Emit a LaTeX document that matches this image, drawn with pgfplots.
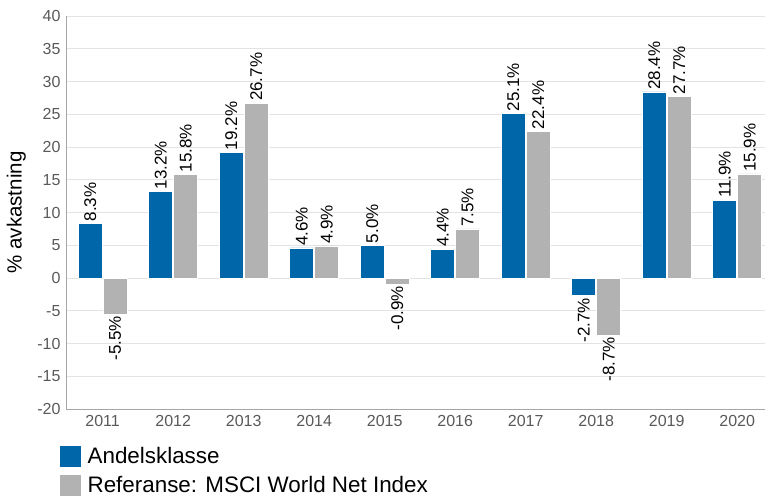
\documentclass[border=0pt]{standalone}
\usepackage{pgfplots}
\pgfplotsset{compat=1.18}
\usepackage{fontspec}
\setmainfont{Liberation Sans}
\definecolor{cblue}{HTML}{0066AA}
\definecolor{cgray}{HTML}{B2B2B2}
\definecolor{tickgray}{HTML}{595959}
\definecolor{gridgray}{HTML}{E3E3E3}
\definecolor{axgray}{HTML}{A6A6A6}
\begin{document}
\begin{tikzpicture}[x=1pt,y=1pt]
\path[use as bounding box] (0,0) rectangle (765,496);
\begin{axis}[
  at={(66pt,87pt)}, anchor=south west,
  scale only axis, width=699pt, height=393pt,
  xmin=-0.52, xmax=9.395, ymin=-20, ymax=40,
  ybar=1pt, bar width=24pt,
  axis x line*=bottom, axis y line*=left,
  axis line style={axgray, line width=1pt, -},
  major tick length=0pt,
  ytick={-20,-15,-10,-5,0,5,10,15,20,25,30,35,40},
  yticklabels={-20,-15,-10,-5,0,5,10,15,20,25,30,35,40},
  xtick={0,1,2,3,4,5,6,7,8,9},
  xticklabels={2011,2012,2013,2014,2015,2016,2017,2018,2019,2020},
  ticklabel style={font=\fontsize{16}{16}\selectfont, text=tickgray},
  yticklabel style={xshift=-2pt},
  xticklabel style={yshift=-3pt},
  ymajorgrids, grid style={gridgray, line width=0.8pt},
  ylabel={\% avkastning},
  ylabel style={at={(axis description cs:-0.071,0.5)}, anchor=center, font=\fontsize{20.5}{20.5}\selectfont},
  legend style={at={(axis description cs:-0.01,-0.0916)}, anchor=north west, draw=none, fill=none,
    font=\fontsize{22.4}{22.4}\selectfont, inner sep=0pt, row sep=6pt, column sep=6pt,
    nodes={inner sep=0pt}},
  legend cell align=left,
  legend image code/.code={\fill[#1] (0pt,-11pt) rectangle (22pt,11pt);},
  nodes near coords={\pgfplotspointmeta\%},
  visualization depends on={value \thisrow{a} \as \anc},
  every node near coord/.append style={rotate=90, anchor=\anc, font=\fontsize{17}{17}\selectfont, text=black, inner sep=2pt},
]
\addplot[fill=cblue, draw=white, line width=0.4pt,
  point meta=explicit symbolic] table[x=x, y=y, meta=l] {
x y l a
0 8.3 8.3 west
1 13.2 13.2 west
2 19.2 19.2 west
3 4.6 4.6 west
4 5.0 5.0 west
5 4.4 4.4 west
6 25.1 25.1 west
7 -2.7 -2.7 east
8 28.4 28.4 west
9 11.9 11.9 west
};
\addlegendentry{Andelsklasse}
\addplot[fill=cgray, draw=white, line width=0.4pt,
  point meta=explicit symbolic] table[x=x, y=y, meta=l] {
x y l a
0 -5.5 -5.5 east
1 15.8 15.8 west
2 26.7 26.7 west
3 4.9 4.9 west
4 -0.9 -0.9 east
5 7.5 7.5 west
6 22.4 22.4 west
7 -8.7 -8.7 east
8 27.7 27.7 west
9 15.9 15.9 west
};
\addlegendentry{Referanse: MSCI World Net Index}
\end{axis}
\end{tikzpicture}
\end{document}
